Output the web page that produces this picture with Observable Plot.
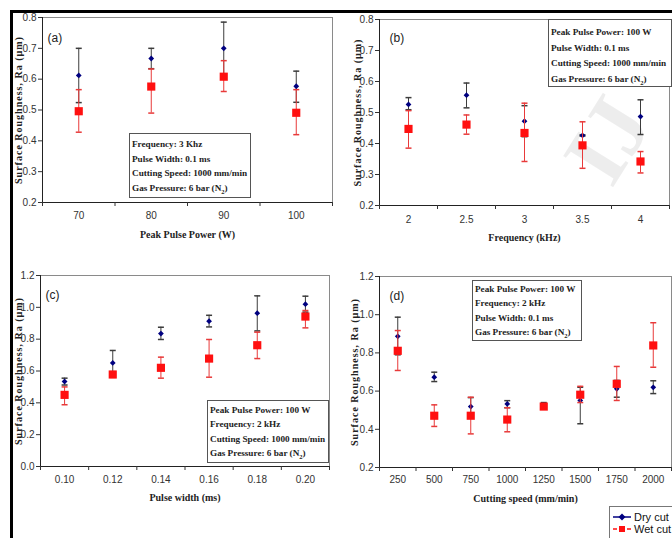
<!DOCTYPE html>
<html><head><meta charset="utf-8">
<script src="https://cdn.jsdelivr.net/npm/d3@7"></script>
<script src="https://cdn.jsdelivr.net/npm/@observablehq/plot@0.6"></script>
<style>
body{margin:0;background:#fff;}
#root{position:relative;width:672px;height:538px;overflow:hidden;background:#fff;}
.panel{position:absolute;}
.box{position:absolute;border:1px solid #555;background:#fff;font-family:"Liberation Serif",serif;font-weight:bold;font-size:9.2px;color:#222;white-space:nowrap;padding-left:2px;box-sizing:border-box;}
.box sub{font-size:6.5px;}
.bar{position:absolute;background:#000;}
.wm{position:absolute;font-family:"Liberation Serif",serif;font-weight:bold;color:rgba(0,0,0,0.07);white-space:nowrap;transform-origin:0 0;line-height:1;}
.legend{position:absolute;left:609px;top:506px;width:90px;height:40px;border:1px solid #777;background:#fff;box-sizing:border-box;}
</style></head><body><div id="root"></div>
<script>
// ---------- data ----------
// (a) Peak pulse power (W)
const aX = [70, 80, 90, 100];
const aDry = [0.612, 0.667, 0.700, 0.577];
const aDryLo = [0.524, 0.634, 0.615, 0.525];
const aDryHi = [0.700, 0.700, 0.785, 0.626];
const aWet = [0.496, 0.576, 0.608, 0.491];
const aWetLo = [0.428, 0.490, 0.560, 0.420];
const aWetHi = [0.566, 0.633, 0.660, 0.566];
// (b) Frequency (kHz)
const bX = [2, 2.5, 3, 3.5, 4];
const bDry = [0.526, 0.556, 0.472, 0.426, 0.487];
const bDryLo = [0.509, 0.515, 0.422, 0.424, 0.429];
const bDryHi = [0.548, 0.595, 0.522, 0.428, 0.541];
const bWet = [0.447, 0.461, 0.434, 0.394, 0.342];
const bWetLo = [0.385, 0.430, 0.342, 0.320, 0.305];
const bWetHi = [0.506, 0.492, 0.530, 0.470, 0.374];
// (c) Pulse width (ms)
const cX = [0.10, 0.12, 0.14, 0.16, 0.18, 0.20];
const cDry = [0.534, 0.651, 0.835, 0.913, 0.963, 1.020];
const cDryLo = [0.512, 0.573, 0.798, 0.877, 0.852, 0.970];
const cDryHi = [0.555, 0.729, 0.875, 0.950, 1.072, 1.070];
const cWet = [0.450, 0.578, 0.620, 0.678, 0.762, 0.942];
const cWetLo = [0.388, 0.560, 0.555, 0.561, 0.678, 0.871];
const cWetHi = [0.500, 0.596, 0.687, 0.798, 0.844, 0.980];
// (d) Cutting speed (mm/min)
const dX = [250, 500, 750, 1000, 1250, 1500, 1750, 2000];
const dDry = [0.887, 0.673, 0.519, 0.533, 0.525, 0.551, 0.612, 0.620];
const dDryLo = [0.790, 0.650, 0.470, 0.513, 0.510, 0.429, 0.568, 0.587];
const dDryHi = [0.987, 0.699, 0.566, 0.550, 0.540, 0.620, 0.656, 0.654];
const dWet = [0.811, 0.471, 0.471, 0.451, 0.519, 0.581, 0.638, 0.839];
const dWetLo = [0.708, 0.415, 0.376, 0.387, 0.505, 0.540, 0.551, 0.725];
const dWetHi = [0.917, 0.528, 0.568, 0.513, 0.533, 0.625, 0.729, 0.958];

const yLabel = "Surface Roughness, Ra (µm)";
const seriesNames = ["Dry cut", "Wet cut"];

// ---------- drawing ----------
const root = document.getElementById("root");
const DRY = "#000080", WET = "#ff1010", DRYERR = "#3c3c3c", WETERR = "#e83a3a";
const cap = {draw(ctx, size) { const w = Math.sqrt(size / Math.PI); ctx.moveTo(-w, 0); ctx.lineTo(w, 0); }};
const serif = "Liberation Serif, serif";

function panel(cfg) {
  const rows = (m, lo, hi) => cfg.x.map((x, i) => ({x, m: m[i], lo: lo[i], hi: hi[i]}));
  const dry = rows(cfg.dry, cfg.dryLo, cfg.dryHi);
  const wet = rows(cfg.wet, cfg.wetLo, cfg.wetHi);
  const step = cfg.x[1] - cfg.x[0];
  const bounds = d3.range(cfg.x.length + 1).map(i => cfg.x[0] - step / 2 + i * step);
  const xDomain = [bounds[0], bounds[bounds.length - 1]];
  const svg = Plot.plot({
    width: cfg.w, height: cfg.h,
    marginLeft: cfg.ml, marginRight: cfg.mr, marginTop: cfg.mt, marginBottom: cfg.mb,
    x: {domain: xDomain},
    y: {domain: cfg.yDomain},
    style: {fontFamily: "Liberation Sans Narrow, Liberation Sans, Arial, sans-serif", fontSize: "10px", color: "#333", background: "transparent", overflow: "visible"},
    marks: [
      Plot.frame({stroke: "#8a8a8a"}),
      Plot.ruleY([cfg.yDomain[0]], {stroke: "#222"}),
      Plot.ruleX([xDomain[0]], {stroke: "#222"}),
      Plot.axisY({ticks: cfg.yTicks, tickFormat: d3.format(".1f"), tickSize: 4, tickPadding: 2, label: null}),
      Plot.axisX({ticks: bounds, tickFormat: () => "", tickSize: 4, label: null}),
      Plot.axisX({ticks: cfg.x, tickFormat: cfg.xFmt, tickSize: 0, tickPadding: cfg.tp, label: null}),
      Plot.text([cfg.xLabel], {frameAnchor: "bottom", dy: cfg.xlDy, fontFamily: serif, fontWeight: "bold", fontSize: 10, fill: "#222"}),
      Plot.text([yLabel], {frameAnchor: "left", textAnchor: "middle", rotate: -90, dx: cfg.ylDx, fontFamily: serif, fontWeight: "bold", fontSize: 10, fill: "#222"}),
      Plot.text([cfg.letter], {frameAnchor: "top-left", textAnchor: "start", dx: cfg.lDx, dy: cfg.lDy, fontSize: 12, fontFamily: "Liberation Sans, Arial, sans-serif", fill: "#222"}),
      Plot.ruleX(dry, {x: "x", y1: "lo", y2: "hi", stroke: DRYERR}),
      Plot.dot(dry, {x: "x", y: "lo", symbol: cap, r: 3, stroke: DRYERR, fill: "none"}),
      Plot.dot(dry, {x: "x", y: "hi", symbol: cap, r: 3, stroke: DRYERR, fill: "none"}),
      Plot.dot(dry, {x: "x", y: "m", symbol: "diamond2", r: 2.6, fill: DRY, stroke: "none"}),
      Plot.ruleX(wet, {x: "x", y1: "lo", y2: "hi", stroke: WETERR}),
      Plot.dot(wet, {x: "x", y: "lo", symbol: cap, r: 3, stroke: WETERR, fill: "none"}),
      Plot.dot(wet, {x: "x", y: "hi", symbol: cap, r: 3, stroke: WETERR, fill: "none"}),
      Plot.dot(wet, {x: "x", y: "m", symbol: "square", r: 4.6, fill: WET, stroke: "none"})
    ]
  });
  d3.select(svg).selectAll("text").filter(function() { return this.textContent === yLabel; }).style("letter-spacing", "1px");
  svg.classList.add("panel");
  svg.style.left = cfg.left + "px";
  svg.style.top = cfg.top + "px";
  root.appendChild(svg);
}

// watermark (drawn first, under the panels)
const wm = document.createElement("div");
wm.className = "wm";
wm.textContent = "IJ";
Object.assign(wm.style, {left: "548px", top: "150px", fontSize: "90px", transform: "rotate(-58deg)"});
root.appendChild(wm);

panel({left: 0, top: 0, w: 336, h: 258, ml: 42, mr: 4, mt: 17, mb: 56,
  x: aX, dry: aDry, dryLo: aDryLo, dryHi: aDryHi, wet: aWet, wetLo: aWetLo, wetHi: aWetHi,
  yDomain: [0.2, 0.8], yTicks: d3.range(2, 9).map(d => d / 10), xFmt: d3.format("d"), tp: 9,
  xLabel: "Peak Pulse Power (W)", xlDy: 35, ylDx: -24, letter: "(a)", lDx: 5, lDy: 16});
panel({left: 336, top: 0, w: 336, h: 258, ml: 43, mr: 3, mt: 19, mb: 53,
  x: bX, dry: bDry, dryLo: bDryLo, dryHi: bDryHi, wet: bWet, wetLo: bWetLo, wetHi: bWetHi,
  yDomain: [0.2, 0.8], yTicks: d3.range(2, 9).map(d => d / 10), xFmt: d => String(d), tp: 10,
  xLabel: "Frequency (kHz)", xlDy: 35, ylDx: -22, letter: "(b)", lDx: 10, lDy: 14});
panel({left: 0, top: 260, w: 336, h: 278, ml: 40, mr: 7, mt: 15, mb: 72,
  x: cX, dry: cDry, dryLo: cDryLo, dryHi: cDryHi, wet: cWet, wetLo: cWetLo, wetHi: cWetHi,
  yDomain: [0, 1.2], yTicks: d3.range(0, 7).map(d => d / 5), xFmt: d3.format(".2f"), tp: 9,
  xLabel: "Pulse width (ms)", xlDy: 34, ylDx: -22, letter: "(c)", lDx: 5, lDy: 15});
panel({left: 336, top: 260, w: 336, h: 278, ml: 43, mr: 1, mt: 16, mb: 71,
  x: dX, dry: dDry, dryLo: dDryLo, dryHi: dDryHi, wet: dWet, wetLo: dWetLo, wetHi: dWetHi,
  yDomain: [0.2, 1.2], yTicks: d3.range(1, 7).map(d => d / 5), xFmt: d3.format("d"), tp: 8,
  xLabel: "Cutting speed (mm/min)", xlDy: 34, ylDx: -25, letter: "(d)", lDx: 10, lDy: 15});

// annotation boxes
function box(left, top, w, h, lh, pt, lines) {
  const d = document.createElement("div");
  d.className = "box";
  Object.assign(d.style, {left: left + "px", top: top + "px", width: w + "px", height: h + "px", lineHeight: lh + "px", paddingTop: pt + "px"});
  d.innerHTML = lines.join("<br>");
  root.appendChild(d);
}
const gas = "Gas Pressure: 6 bar (N<sub>2</sub>)";
box(129, 133, 122, 65, 14.6, 3, ["Frequency: 3 Khz", "Pulse Width: 0.1 ms", "Cutting Speed: 1000 mm/min", gas]);
box(548, 19, 124, 68, 15.6, 5, ["Peak Pulse Power: 100 W", "Pulse Width: 0.1 ms", "Cutting Speed: 1000 mm/min", gas]);
box(207, 400, 122, 63, 14.6, 1.5, ["Peak Pulse Power: 100 W", "Frequency: 2 kHz", "Cutting Speed: 1000 mm/min", gas]);
box(472, 280, 110, 61, 14.6, 0.5, ["Peak Pulse Power: 100 W", "Frequency: 2 kHz", "Pulse Width: 0.1 ms", gas]);

// outer black lines
for (const [l, t, w, h] of [[10, 10, 662, 3], [10, 10, 3, 528]]) {
  const b = document.createElement("div");
  b.className = "bar";
  Object.assign(b.style, {left: l + "px", top: t + "px", width: w + "px", height: h + "px"});
  root.appendChild(b);
}

// legend
const lg = document.createElement("div");
lg.className = "legend";
lg.innerHTML = `<svg width="90" height="40" style="position:absolute;left:-1px;top:-1px">
  <line x1="4" x2="22" y1="11" y2="11" stroke="${DRY}" stroke-width="1.5"/>
  <path d="M13,7.5L16.5,11L13,14.5L9.5,11Z" fill="${DRY}"/>
  <text x="25" y="15" font-family="Liberation Sans, Arial, sans-serif" font-size="11" fill="#111">${seriesNames[0]}</text>
  <line x1="4" x2="22" y1="23" y2="23" stroke="${WET}" stroke-width="1.5" stroke-dasharray="4,3"/>
  <rect x="10" y="20" width="6" height="6" fill="${WET}"/>
  <text x="25" y="27" font-family="Liberation Sans, Arial, sans-serif" font-size="11" fill="#111">${seriesNames[1]}</text>
</svg>`;
root.appendChild(lg);
</script></body></html>
